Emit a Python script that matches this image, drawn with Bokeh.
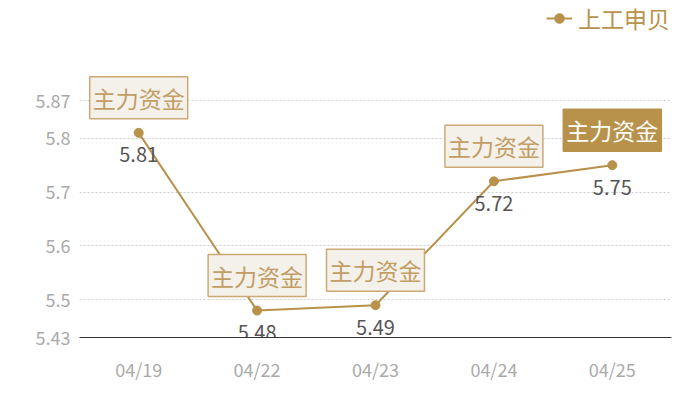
from bokeh.plotting import figure
from bokeh.models import ColumnDataSource, FixedTicker, Legend, LegendItem, FactorRange, Range1d
from bokeh.core.properties import value
from bokeh.embed import file_html
from bokeh.resources import INLINE

dates = ["04/19", "04/22", "04/23", "04/24", "04/25"]
prices = [5.81, 5.48, 5.49, 5.72, 5.75]
price_labels = ["5.81", "5.48", "5.49", "5.72", "5.75"]
flag_texts = ["主力资金", "主力资金", "主力资金", "主力资金", "主力资金"]
y_ticks = [5.43, 5.5, 5.6, 5.7, 5.8, 5.87]
series_name = "上工申贝"

GOLD = "#b8924a"
FONT = "Noto Sans CJK SC"

flag_fill = ["#f4f0ea"] * 4 + [GOLD]
flag_text_color = ["#c29d64"] * 4 + ["#ffffff"]
flag_border = ["#caa977"] * 4 + [GOLD]

src = ColumnDataSource(dict(
    x=dates, y=prices, lab=price_labels, flag=flag_texts,
    ffill=flag_fill, fcol=flag_text_color, fborder=flag_border,
))

p = figure(
    width=684, height=384, output_backend="svg", toolbar_location=None,
    x_range=FactorRange(*dates, range_padding=0),
    y_range=Range1d(5.43, 6.0557),
    min_border_left=79, min_border_right=13, min_border_top=0, min_border_bottom=47,
)
p.outline_line_color = None
p.background_fill_color = "white"
p.border_fill_color = "white"

# axes
p.yaxis.ticker = FixedTicker(ticks=y_ticks)
p.yaxis.axis_line_color = None
p.yaxis.major_tick_line_color = None
p.yaxis.minor_tick_line_color = None
p.yaxis.major_tick_out = 0
p.yaxis.major_tick_in = 0
p.yaxis.major_label_text_color = "#aaaaaa"
p.yaxis.major_label_text_font = FONT
p.yaxis.major_label_text_font_size = "18px"
p.yaxis.major_label_standoff = 9

p.xaxis.axis_line_color = "#333333"
p.xaxis.axis_line_width = 1
p.xaxis.major_tick_line_color = None
p.xaxis.minor_tick_line_color = None
p.xaxis.major_tick_out = 0
p.xaxis.major_tick_in = 0
p.xaxis.major_label_text_color = "#aaaaaa"
p.xaxis.major_label_text_font = FONT
p.xaxis.major_label_text_font_size = "18px"
p.xaxis.major_label_standoff = 18

p.xgrid.grid_line_color = None
p.ygrid.ticker = FixedTicker(ticks=y_ticks)
p.ygrid.grid_line_color = "#cccccc"
p.ygrid.grid_line_dash = "2 2"
p.ygrid.grid_line_width = 1

line = p.line("x", "y", source=src, line_color=GOLD, line_width=2)
pts = p.scatter("x", "y", source=src, size=9, fill_color=GOLD, line_color=GOLD)

p.text("x", "y", text="lab", source=src, text_align="center", text_baseline="middle",
       y_offset=22, text_color="#555555", text_font=value(FONT), text_font_size="20px")

p.text("x", "y", text="flag", source=src, text_align="center", text_baseline="middle",
       y_offset=-35, text_color="fcol", text_font=value(FONT), text_font_size="23px",
       background_fill_color="ffill", border_line_color="fborder", border_line_width=1.5,
       padding=[3, 4])

legend = Legend(
    items=[LegendItem(label=series_name, renderers=[line, pts])],
    location=(467, 302), orientation="horizontal",
    padding=0, margin=0, spacing=0,
    glyph_width=26, glyph_height=24, label_standoff=6,
    label_text_color=GOLD, label_text_font=FONT, label_text_font_size="23px",
    background_fill_alpha=0, border_line_color=None,
)
p.add_layout(legend, "center")

open("out.html", "w").write(file_html(p, INLINE))
